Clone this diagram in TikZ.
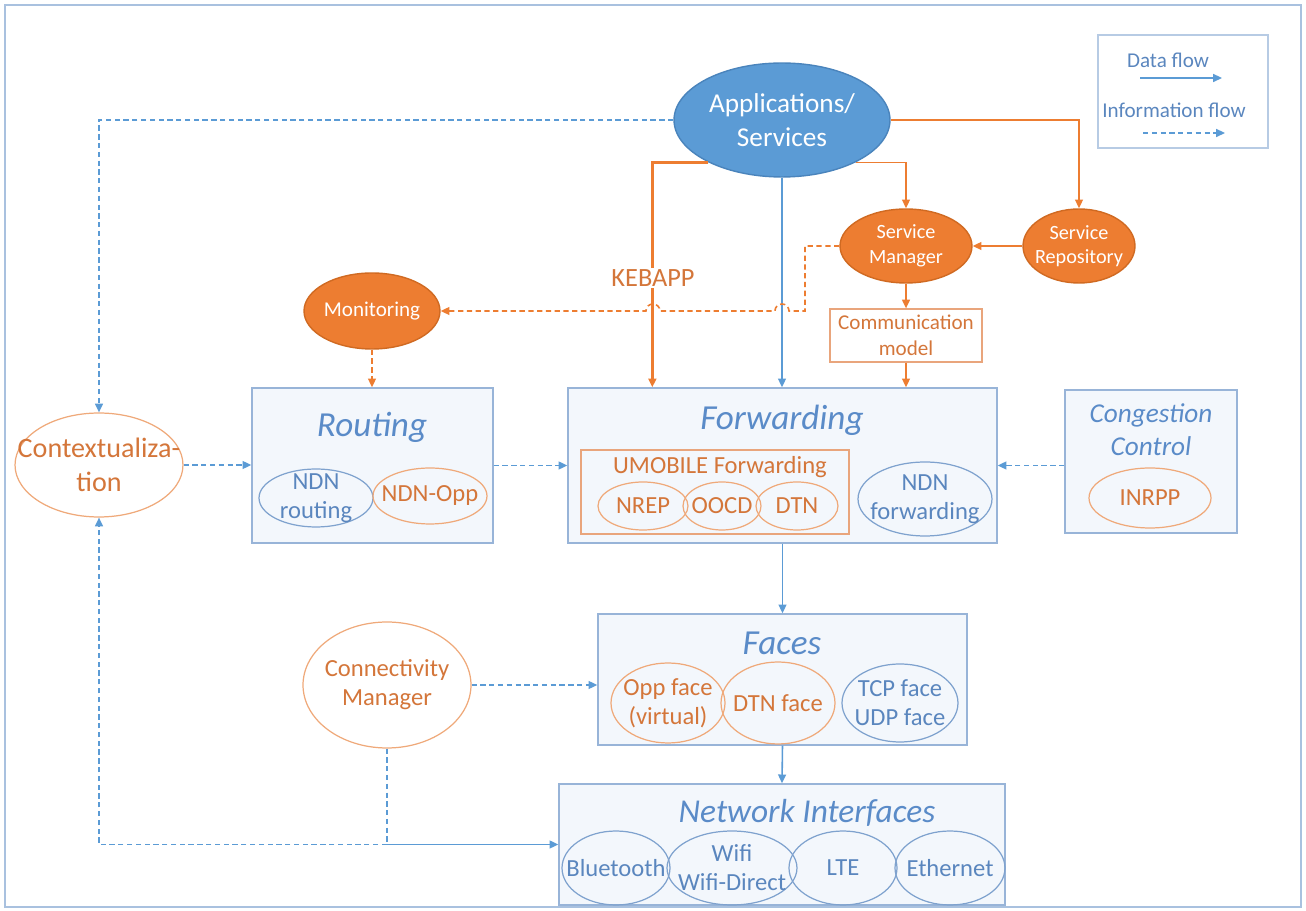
\documentclass[tikz,border=0pt]{standalone}
\usepackage{fontspec}
\setmainfont{Carlito}
\usetikzlibrary{shapes.geometric,arrows.meta,calc}

\definecolor{cBlue}{HTML}{5B9BD5}
\definecolor{cBlueD}{HTML}{4A84BC}
\definecolor{cTitle}{HTML}{5A8BC8}
\definecolor{cTxtB}{HTML}{5A86BE}
\definecolor{cEllB}{HTML}{7FA2CE}
\definecolor{cBox}{HTML}{98B4D8}
\definecolor{cBoxFill}{HTML}{F3F7FC}
\definecolor{cFrame}{HTML}{A9C1DF}
\definecolor{cOr}{HTML}{ED7D31}
\definecolor{cOrD}{HTML}{D06A22}
\definecolor{cEllO}{HTML}{EFA97A}
\definecolor{cTxtO}{HTML}{D4763A}
\definecolor{cComm}{HTML}{E9A57C}

\newcommand\fsTitle{\fontsize{20}{24}\selectfont\itshape}
\newcommand\fsNI{\fontsize{19}{23}\selectfont\itshape}
\newcommand\fsCong{\fontsize{15.5}{19}\selectfont\itshape}
\newcommand\fsIn{\fontsize{14}{16.5}\selectfont}
\newcommand\fsApp{\fontsize{15.5}{19}\selectfont}
\newcommand\fsSmall{\fontsize{11.5}{14}\selectfont}
\newcommand\fsMid{\fontsize{12}{14.5}\selectfont}

\begin{document}
\begin{tikzpicture}[x=0.02cm,y=-0.02cm,
  >={Triangle[length=5pt,width=4.5pt]},
  box/.style={draw=cBox,fill=cBoxFill,line width=0.8pt,inner sep=0pt},
  ellB/.style={ellipse,draw=cEllB,line width=0.7pt,inner sep=0pt},
  ellO/.style={ellipse,draw=cEllO,line width=0.7pt,inner sep=0pt},
  ellF/.style={ellipse,draw=cOrD,fill=cOr,line width=0.8pt,inner sep=0pt},
  ellA/.style={ellipse,draw=cBlueD,fill=cBlue,line width=0.8pt,inner sep=0pt},
  txtB/.style={text=cTxtB,align=center,font=\fsIn,inner sep=0pt},
  txtO/.style={text=cTxtO,align=center,font=\fsIn,inner sep=0pt},
  txtW/.style={text=white,align=center,inner sep=0pt},
  title/.style={text=cTitle,align=center,font=\fsTitle,inner sep=0pt},
  data/.style={draw=cBlue,line width=0.9pt,->},
  info/.style={draw=cBlue,line width=0.9pt,dash pattern=on 3pt off 2pt,->},
  dataO/.style={draw=cOr,line width=0.9pt,->},
  infoO/.style={draw=cOr,line width=0.9pt,dash pattern=on 3pt off 2pt,->},
]
\useasboundingbox (0,0) rectangle (1306,911);
\draw[cFrame,line width=0.8pt] (5,5) rectangle (1301,907);

% ---------- legend ----------
\node[draw=cBox!70,line width=0.6pt,minimum width=3.4cm,minimum height=2.26cm,inner sep=0pt] (legend) at (1183,91.5) {};
\node[text=cTxtB,font=\fsMid,inner sep=0pt] (lgdata) at (1168,60) {Data flow};
\node[text=cTxtB,font=\fsMid,inner sep=0pt] (lginfo) at (1174,110) {Information flow};
\coordinate (ld1) at (1140,78); \coordinate (ld2) at (1222,78);
\coordinate (li1) at (1143,133); \coordinate (li2) at (1225,133);
\draw[data] (ld1) -- (ld2);
\draw[info] (li1) -- (li2);

% ---------- upper service layer ----------
\node[ellA,minimum width=4.32cm,minimum height=2.28cm] (apps) at (782,120) {};
\node[txtW,font=\fsApp] (apps-t) at (apps) {Applications/\\Services};
\node[ellF,minimum width=2.64cm,minimum height=1.48cm] (sm) at (906,246) {};
\node[txtW,font=\fsSmall] (sm-t) at (sm) {Service\\Manager};
\node[ellF,minimum width=2.24cm,minimum height=1.48cm] (sr) at (1079,246) {};
\node[txtW,font=\fsSmall] (sr-t) at (sr) {Service\\Repository};
\node[draw=cComm,fill=white,line width=0.7pt,minimum width=3.04cm,minimum height=1.06cm,inner sep=0pt] (comm) at (906,335.5) {};
\node[text=cTxtO,font=\fsMid,align=center,inner sep=0pt] (comm-t) at (comm) {Communication\\model};
\node[ellF,minimum width=2.72cm,minimum height=1.52cm] (mon) at (372,311) {};
\node[txtW,font=\fsMid] (mon-t) at (mon) {Monitoring};

% ---------- routing ----------
\node[box,minimum width=4.82cm,minimum height=3.1cm] (routing) at (372.5,465.5) {};
\node[title] (routing-t) at (372,427) {Routing};
\node[ellB,minimum width=2.28cm,minimum height=1.16cm] (ndnr) at (316,498) {};
\node[txtB] (ndnr-t) at (ndnr) {NDN\\routing};
\node[ellO,minimum width=2.28cm,minimum height=1.12cm] (ndnopp) at (430,496) {};
\node[txtO] (ndnopp-t) at (ndnopp) {NDN-Opp};

% ---------- forwarding ----------
\node[box,minimum width=8.58cm,minimum height=3.1cm] (fwd) at (782.5,465.5) {};
\node[title] (fwd-t) at (782,420) {Forwarding};
\node[draw=cComm,line width=0.7pt,minimum width=5.36cm,minimum height=1.68cm,inner sep=0pt] (umob) at (715,492) {};
\node[txtO] (umob-t) at (720,467) {UMOBILE Forwarding};
\node[ellO,minimum width=1.8cm,minimum height=0.96cm] (nrep) at (643,506) {};
\node[ellO,minimum width=1.56cm,minimum height=0.96cm] (oocd) at (722,506) {};
\node[ellO,minimum width=1.64cm,minimum height=0.96cm] (dtn) at (797,506) {};
\node[txtO] (nrep-t) at (nrep) {NREP};
\node[txtO] (oocd-t) at (oocd) {OOCD};
\node[txtO] (dtn-t) at (dtn) {DTN};
\node[ellB,minimum width=2.68cm,minimum height=1.48cm] (ndnf) at (925,499) {};
\node[txtB] (ndnf-t) at (ndnf) {NDN\\forwarding};

% ---------- congestion control ----------
\node[box,minimum width=3.44cm,minimum height=2.86cm] (cong) at (1151,461.5) {};
\node[title,font=\fsCong] (cong-t) at (1151,430) {Congestion\\Control};
\node[ellO,minimum width=2.44cm,minimum height=1.2cm] (inrpp) at (1150,498) {};
\node[txtO] (inrpp-t) at (inrpp) {INRPP};

% ---------- contextualization ----------
\node[ellO,fill=white,minimum width=3.36cm,minimum height=2.08cm] (ctx) at (99,465) {};
\node[txtO,font=\fontsize{16}{19}\selectfont] (ctx-t) at (ctx) {Contextualiza-\\tion};

% ---------- faces ----------
\node[box,minimum width=7.38cm,minimum height=2.62cm] (faces) at (782.5,679.5) {};
\node[title] (faces-t) at (782,643) {Faces};
\node[ellO,minimum width=2.28cm,minimum height=1.6cm] (opp) at (668,703) {};
\node[ellO,minimum width=2.28cm,minimum height=1.64cm] (dtnf) at (778,703) {};
\node[ellB,minimum width=2.32cm,minimum height=1.56cm] (tcp) at (900,703) {};
\node[txtO] (opp-t) at (opp) {Opp face\\(virtual)};
\node[txtO] (dtnf-t) at (dtnf) {DTN face};
\node[txtB] (tcp-t) at (tcp) {TCP face\\UDP face};

% ---------- connectivity manager ----------
\node[ellO,fill=white,minimum width=3.36cm,minimum height=2.52cm] (cm) at (387,685) {};
\node[txtO] (cm-t) at (cm) {Connectivity\\Manager};

% ---------- network interfaces ----------
\node[box,minimum width=8.92cm,minimum height=2.42cm] (ni) at (782,844.5) {};
\node[title,font=\fsNI] (ni-t) at (807,813) {Network Interfaces};
\node[ellB,minimum width=2.16cm,minimum height=1.48cm] (bt) at (616,868) {};
\node[ellB,minimum width=2.6cm,minimum height=1.48cm] (wifi) at (732,868) {};
\node[ellB,minimum width=2.16cm,minimum height=1.48cm] (lte) at (843,868) {};
\node[ellB,minimum width=2.2cm,minimum height=1.48cm] (eth) at (950,868) {};
\node[txtB] (bt-t) at (bt) {Bluetooth};
\node[txtB] (wifi-t) at (wifi) {Wifi\\Wifi-Direct};
\node[txtB] (lte-t) at (lte) {LTE};
\node[txtB] (eth-t) at (eth) {Ethernet};

% ---------- connectors ----------
\draw[info] (apps.west) -| (ctx.north);
\draw[dataO,line width=1.7pt] (apps.210) -| ([xshift=1.7cm]fwd.north west);
\node[text=cTxtO,fill=white,font=\fontsize{15}{18}\selectfont,inner sep=1pt] (keb) at (653,278) {KEBAPP};
\draw[data] (apps.south) -- (apps.south |- fwd.north);
\draw[dataO] (apps.330) -| (sm.north);
\draw[dataO] (apps.east) -| (sr.north);
\draw[dataO] (sr.west) -- (sm.east);
\draw[dataO] (sm.south) -- (comm.north);
\draw[dataO] (comm.south) -- (comm.south |- fwd.north);
\draw[infoO] (sm.west) -- (805,246) -- (805,311) -- (789,311)
   arc[start angle=0,end angle=180,radius=4pt] -- (660,311)
   arc[start angle=0,end angle=180,radius=4pt] -- (mon.east);
\draw[infoO] (mon.south) -- (mon.south |- routing.north);
\draw[info] (ctx.east) -- (ctx.east -| routing.west);
\draw[info] (routing.east) -- (fwd.west);
\draw[info] (cong.west |- fwd.east) -- (fwd.east);
\draw[data] (fwd.south) -- (faces.north);
\draw[data] (faces.south) -- (ni.north);
\draw[info] (cm.east) -- (cm.east -| faces.west);
\coordinate (junc) at (cm.south |- ni.west);
\draw[info,-] (cm.south) -- (junc);
\draw[data] (junc) -- (ni.west);
\draw[info] (junc) -| (ctx.south);
\end{tikzpicture}
\end{document}
